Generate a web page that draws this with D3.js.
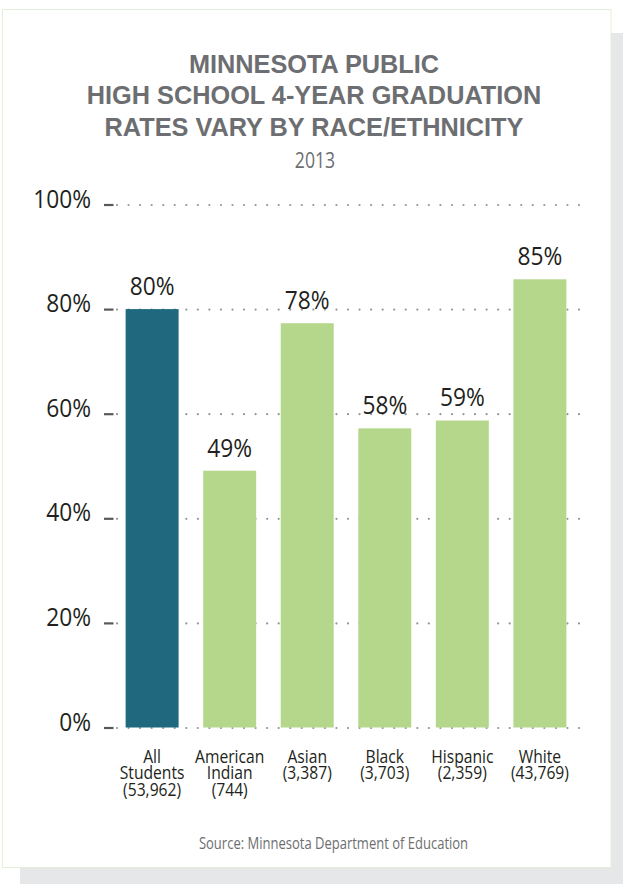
<!DOCTYPE html>
<html>
<head>
<meta charset="utf-8">
<script src="https://cdn.jsdelivr.net/npm/d3@7"></script>
<style>
  body { margin: 0; background: #fff; }
  svg { display: block; }
  .title { font-family: "Liberation Sans", Arial, sans-serif; font-weight: bold; fill: #6d6e71; }
  .narrow { font-family: "Open Sans", "Liberation Sans", sans-serif; }
</style>
</head>
<body>
<svg width="623" height="884"></svg>
<script>
//Chart data
let categories = ["All Students", "American Indian", "Asian", "Black", "Hispanic", "White"];
let catLines = [["All", "Students", "(53,962)"], ["American", "Indian", "(744)"], ["Asian", "(3,387)"],
                ["Black", "(3,703)"], ["Hispanic", "(2,359)"], ["White", "(43,769)"]];
let rates = [80, 49.1, 77.3, 57.2, 58.7, 85.7]; //bar heights as drawn
let rateLabels = ["80%", "49%", "78%", "58%", "59%", "85%"];
let yTicks = [0, 20, 40, 60, 80, 100];
let titleLines = ["MINNESOTA PUBLIC", "HIGH SCHOOL 4-YEAR GRADUATION", "RATES VARY BY RACE/ETHNICITY"];

//No condensed font installed, so squeeze the humanist font horizontally
let squeeze = 0.84,
    squeezeNum = 0.91,
    squeezeCat = 0.87;

let svg = d3.select("svg");

//Card shadow and the card itself
svg.append("rect").attr("x", 20).attr("y", 33).attr("width", 603).attr("height", 851).attr("fill", "#e6e7e8");
svg.append("rect").attr("x", 2.5).attr("y", 9.5).attr("width", 608.5).attr("height", 858)
   .attr("fill", "#fff").attr("stroke", "#e4efd8").attr("stroke-width", 1);

//Titles
svg.selectAll(".title").data(titleLines).enter().append("text")
   .attr("class", "title")
   .attr("x", 314)
   .attr("y", (d, i) => 72.7 + i * 31.7)
   .attr("text-anchor", "middle")
   .style("font-size", "25.3px")
   .text(d => d);

svg.append("text")
   .attr("class", "narrow")
   .attr("transform", "translate(315,168) scale(" + squeeze + ",1)")
   .attr("text-anchor", "middle")
   .style("font-size", "21px")
   .attr("fill", "#6d6e71")
   .text("2013");

//Scales
let x = d3.scaleBand().domain(categories).range([114, 578]).paddingInner(0.317).paddingOuter(0.15);
let y = d3.scaleLinear().domain([0, 100]).range([727.5, 204.5]);

//Y axis with dotted grid lines
let yAxis = d3.axisLeft(y).tickValues(yTicks).tickFormat(d => d + "%").tickSize(0).tickPadding(13);
let gy = svg.append("g").attr("transform", "translate(104,0)").call(yAxis);
gy.select(".domain").remove();
gy.selectAll(".tick text")
  .attr("class", "narrow")
  .attr("fill", "#231f20")
  .attr("x", -13 / squeezeNum)
  .attr("dy", "0.1em")
  .attr("transform", "scale(" + squeezeNum + ",1)")
  .style("font-size", "25px");
gy.selectAll(".tick").append("line")
  .attr("x1", 13).attr("x2", 476)
  .attr("stroke", "#939598").attr("stroke-width", 2.2)
  .attr("stroke-linecap", "round").attr("stroke-dasharray", "0,11.55");
gy.selectAll(".tick").append("line")
  .attr("x1", 0).attr("x2", 9.5)
  .attr("stroke", "#58595b").attr("stroke-width", 2.2);

//Bars
let colors = d => d == "All Students" ? "#1f687e" : "#b5d78c";
svg.selectAll(".bar").data(categories).enter().append("rect")
   .attr("class", "bar")
   .attr("x", d => x(d))
   .attr("width", x.bandwidth())
   .attr("y", (d, i) => y(rates[i]))
   .attr("height", (d, i) => y(0) - y(rates[i]))
   .attr("fill", colors);

//Value labels above bars
svg.selectAll(".val").data(categories).enter().append("text")
   .attr("class", "val narrow")
   .attr("transform", (d, i) => "translate(" + (x(d) + x.bandwidth() / 2) + "," + (y(rates[i]) - 14) + ") scale(" + squeezeNum + ",1)")
   .attr("text-anchor", "middle")
   .attr("fill", "#231f20")
   .style("font-size", "25px")
   .text((d, i) => rateLabels[i]);

//Category labels
let cat = svg.selectAll(".cat").data(categories).enter().append("text")
   .attr("class", "cat narrow")
   .attr("transform", d => "translate(" + (x(d) + x.bandwidth() / 2) + ",0) scale(" + squeezeCat + ",1)")
   .attr("text-anchor", "middle")
   .attr("fill", "#231f20")
   .style("font-size", "18px");
cat.each(function(d, i) {
  d3.select(this).selectAll("tspan").data(catLines[i]).enter().append("tspan")
    .attr("x", 0)
    .attr("y", (t, j) => 763 + j * 16.5)
    .text(t => t);
});

//Source
svg.append("text")
   .attr("class", "narrow")
   .attr("transform", "translate(333.5,848.5) scale(" + squeeze + ",1)")
   .attr("text-anchor", "middle")
   .attr("fill", "#6d6e71")
   .style("font-size", "15.5px")
   .text("Source: Minnesota Department of Education");
</script>
</body>
</html>
